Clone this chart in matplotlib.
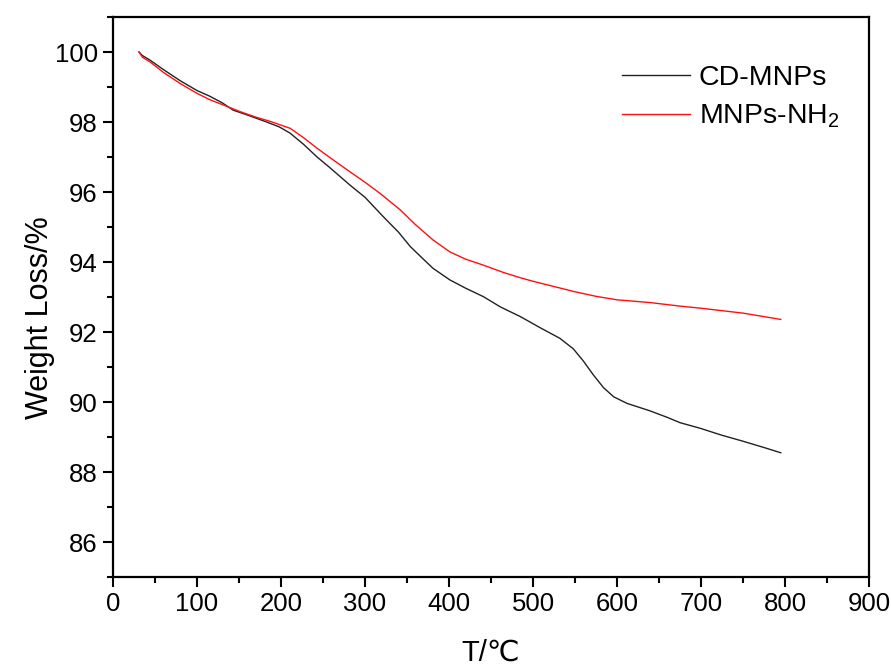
import matplotlib
matplotlib.use("Agg")
import matplotlib.pyplot as plt
from matplotlib.ticker import MultipleLocator

plt.rcParams['font.family'] = ['Liberation Sans', 'DejaVu Sans', 'Noto Sans CJK SC']
plt.rcParams['mathtext.fontset'] = 'custom'
plt.rcParams['mathtext.rm'] = 'Liberation Sans'
plt.rcParams['mathtext.it'] = 'Liberation Sans'

# CD-MNPs (black)
t_cd = [31, 35, 44, 60, 80, 100, 115, 130, 143, 160, 183, 198, 211, 227, 243, 258, 282, 300,
        322, 340, 354, 370, 381, 401, 420, 441, 461, 485, 508, 532, 548, 560, 572,
        584, 596, 612, 639, 660, 675, 699, 725, 750, 775, 795]
w_cd = [100.0, 99.9, 99.77, 99.5, 99.18, 98.9, 98.74, 98.55, 98.34, 98.2, 98.0, 97.86,
        97.68, 97.36, 97.0, 96.7, 96.2, 95.85, 95.29, 94.85, 94.44, 94.07, 93.82, 93.49,
        93.25, 93.01, 92.72, 92.44, 92.13, 91.82, 91.52, 91.17, 90.77, 90.41, 90.15,
        89.96, 89.75, 89.56, 89.41, 89.25, 89.05, 88.88, 88.7, 88.55]

# MNPs-NH2 (red)
t_nh = [31, 35, 44, 60, 80, 100, 115, 130, 151, 170, 187, 211, 227, 243, 262, 282, 300,
        318, 342, 360, 381, 401, 420, 441, 465, 485, 500, 525, 550, 575, 600, 640, 675,
        700, 750, 795]
w_nh = [100.0, 99.85, 99.72, 99.42, 99.1, 98.82, 98.64, 98.5, 98.3, 98.14, 98.02, 97.82,
        97.55, 97.25, 96.92, 96.58, 96.28, 95.96, 95.49, 95.07, 94.63, 94.29, 94.08, 93.91,
        93.7, 93.55, 93.45, 93.3, 93.15, 93.02, 92.92, 92.84, 92.74, 92.68, 92.54, 92.36]

x_ticks = [0, 100, 200, 300, 400, 500, 600, 700, 800, 900]
y_ticks = [86, 88, 90, 92, 94, 96, 98, 100]

fig = plt.figure(figsize=(8.91, 6.65), dpi=100)
ax = fig.add_axes([0.1268, 0.1323, 0.8485, 0.8421])

ax.plot(t_cd, w_cd, color='#222222', lw=1.0, label='CD-MNPs')
ax.plot(t_nh, w_nh, color='#ff1010', lw=1.0, label='MNPs-NH$_2$')

ax.set_xlim(0, 900)
ax.set_ylim(85, 101)
ax.set_xticks(x_ticks)
ax.set_yticks(y_ticks)
ax.xaxis.set_minor_locator(MultipleLocator(50))
ax.yaxis.set_minor_locator(MultipleLocator(1))
ax.tick_params(which='major', direction='out', length=7, width=1.5, labelsize=18.5, pad=4)
ax.tick_params(which='minor', direction='out', length=4, width=1.5)
ax.tick_params(top=False, right=False)
for s in ax.spines.values():
    s.set_linewidth(1.6)

ax.set_xlabel('T/\u2103', fontsize=21, labelpad=16)
ax.set_ylabel('Weight Loss/%', fontsize=22)
ax.yaxis.set_label_coords(-0.077, 0.464)

leg = ax.legend(loc='upper left', bbox_to_anchor=(0.673, 0.914), frameon=False,
                fontsize=20.5, handlelength=2.4, handletextpad=0.3, labelspacing=0.4,
                borderpad=0, borderaxespad=0)

fig.savefig('out.png', dpi=100)
